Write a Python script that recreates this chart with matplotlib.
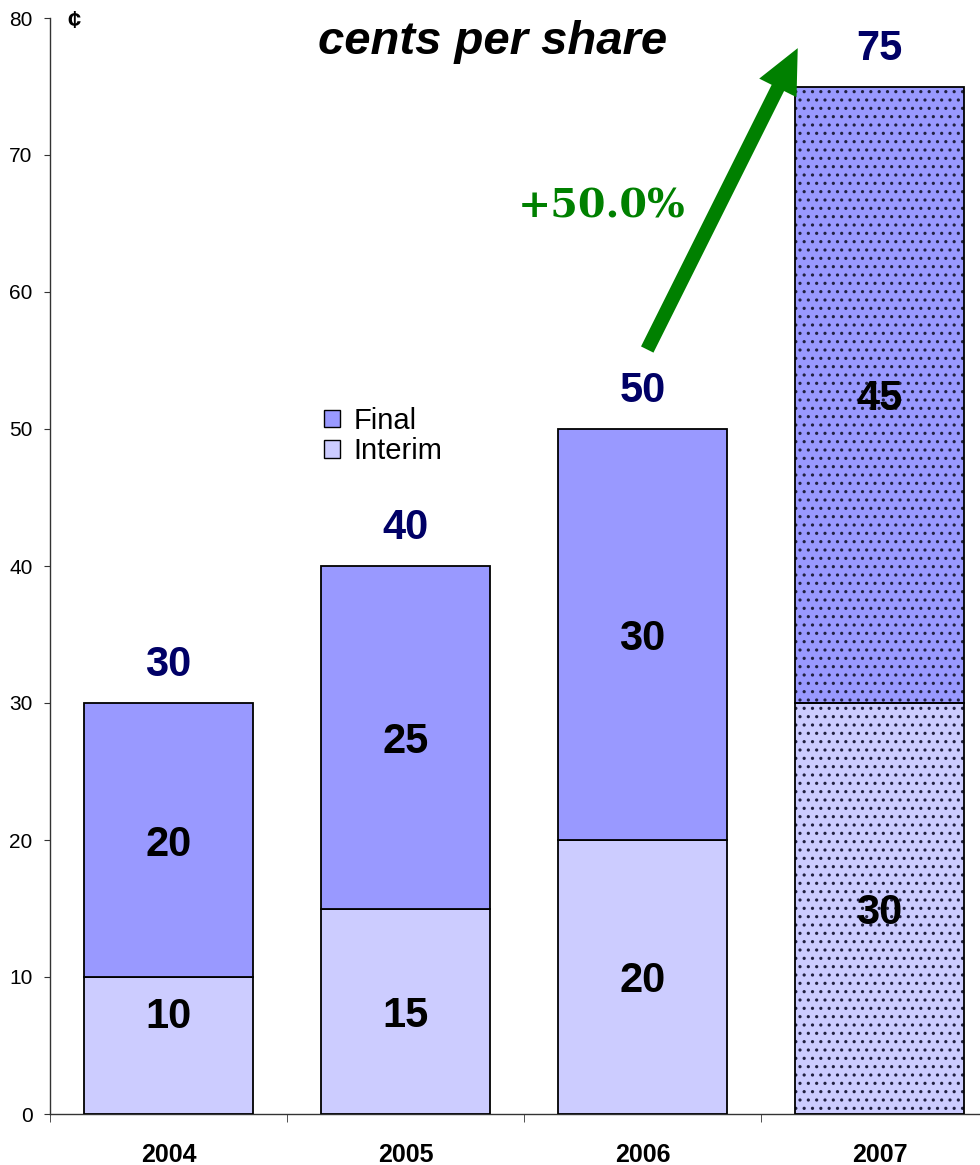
import matplotlib
matplotlib.use("Agg")
import matplotlib.pyplot as plt
from matplotlib.patches import Patch
import numpy as np

years = ["2004", "2005", "2006", "2007"]
interim = [10, 15, 20, 30]
final = [20, 25, 30, 45]
totals = [a + b for a, b in zip(interim, final)]
yticks = [0, 10, 20, 30, 40, 50, 60, 70, 80]
growth_label = "+50.0%"
title_text = "cents per share"

plt.rcParams['font.family'] = ['Liberation Sans', 'DejaVu Sans']
plt.rcParams['hatch.linewidth'] = 1.1

W, H = 980, 1165
fig = plt.figure(figsize=(W / 100, H / 100), dpi=100)
ax = fig.add_axes([50 / W, 51 / H, 948 / W, (1114 - 18) / H])

c_final = '#9999FF'
c_interim = '#CCCCFF'
x = np.arange(len(years))
bw = 0.71

hatched = [y == "2007" for y in years]
for i in range(len(years)):
    if hatched[i]:
        ax.bar(x[i], interim[i], bw, color=c_interim, edgecolor='#202040', linewidth=0, hatch='..', zorder=2)
        ax.bar(x[i], final[i], bw, bottom=interim[i], color=c_final, edgecolor='#202040', linewidth=0, hatch='..', zorder=2)
        ax.bar(x[i], interim[i], bw, fill=False, edgecolor='black', linewidth=1.3, zorder=3)
        ax.bar(x[i], final[i], bw, bottom=interim[i], fill=False, edgecolor='black', linewidth=1.3, zorder=3)
    else:
        ax.bar(x[i], interim[i], bw, color=c_interim, edgecolor='black', linewidth=1.3, zorder=3)
        ax.bar(x[i], final[i], bw, bottom=interim[i], color=c_final, edgecolor='black', linewidth=1.3, zorder=3)

lab_fs = 30
for i in range(len(years)):
    ax.text(x[i], max(interim[i] / 2, 7.4), str(interim[i]), ha='center', va='center_baseline',
            fontsize=lab_fs, fontweight='bold', color='black', zorder=5)
    ax.text(x[i], interim[i] + final[i] / 2, str(final[i]), ha='center', va='center_baseline',
            fontsize=lab_fs, fontweight='bold', color='black', zorder=5)
    ax.text(x[i], totals[i] + 3.1, str(totals[i]), ha='center', va='center_baseline',
            fontsize=lab_fs, fontweight='bold', color='#000066', zorder=5)

ax.set_xlim(-0.5, len(years) - 0.5)
ax.set_ylim(0, 80)
ax.set_yticks(yticks)
ax.set_yticklabels([str(t) for t in yticks], fontsize=15)
ax.set_xticks(x)
ax.set_xticklabels(years, fontsize=18, fontweight='bold')
ax.set_xticks(np.arange(-0.5, len(years), 1.0), minor=True)
ax.tick_params(axis='x', which='major', length=0, pad=21)
ax.tick_params(axis='x', which='minor', length=6, direction='out', color='#333333')
ax.tick_params(axis='y', length=4.5, direction='out', color='#333333', pad=8)
for s in ['top', 'right']:
    ax.spines[s].set_visible(False)
for s in ['left', 'bottom']:
    ax.spines[s].set_color('#333333')
    ax.spines[s].set_linewidth(1.0)

fig.text(74 / W, 1 - 21 / H, '¢', ha='center', va='center', fontsize=17, fontweight='bold')

fig.text(493 / W, 1 - 42 / H, title_text, ha='center', va='center', fontsize=34,
         fontweight='bold', fontstyle='italic')

ax.annotate('', xy=(2.655, 77.8), xytext=(2.02, 55.8),
            arrowprops=dict(arrowstyle='simple,head_length=1.6,head_width=1.5,tail_width=0.5',
                            color='#008000', lw=0, shrinkA=0, shrinkB=0,
                            mutation_scale=20), zorder=6)
fig.text(602 / W, 1 - 207 / H, growth_label, ha='center', va='center', fontsize=28.5,
         fontweight='bold', color='#008000', family='DejaVu Serif')

handles = [Patch(facecolor=c_final, edgecolor='black', label='Final'),
           Patch(facecolor=c_interim, edgecolor='black', label='Interim')]
leg = fig.legend(handles=handles, loc='upper left', bbox_to_anchor=(324 / W, 1 - 407 / H),
                 frameon=False, fontsize=21, handlelength=0.55, handleheight=0.55,
                 handletextpad=0.45, labelspacing=0.08, borderpad=0, borderaxespad=0)

fig.savefig('out.png', dpi=100)
